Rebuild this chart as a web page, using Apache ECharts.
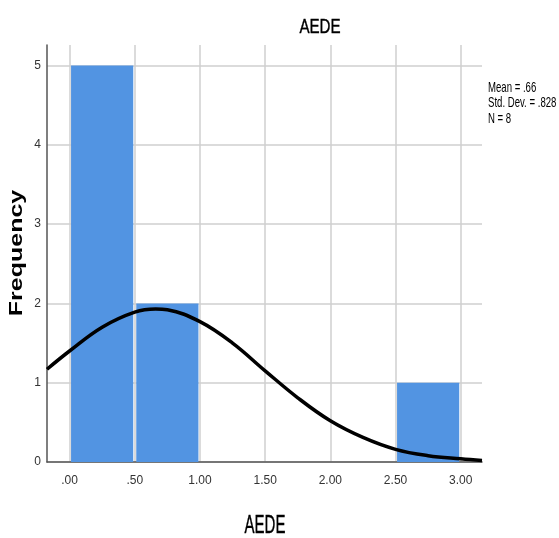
<!DOCTYPE html>
<html><head><meta charset="utf-8">
<script src="https://cdn.jsdelivr.net/npm/echarts@6/dist/echarts.min.js"></script>
<style>html,body{margin:0;padding:0;background:#fff}#c{width:559px;height:538px}</style>
</head><body><div id="c"></div>
<script>
// Histogram bins
const binStart = [0.0, 0.5, 2.5];
const binEnd   = [0.5, 1.0, 3.0];
const binFreq  = [5, 2, 1];
// Normal curve points
const curveX = [-0.173, 0.0, 0.25, 0.5, 0.66, 0.75, 1.0, 1.25, 1.5, 1.75, 2.0, 2.25, 2.5, 2.75, 3.0, 3.163];
const curveY = [1.17, 1.40, 1.70, 1.89, 1.93, 1.92, 1.77, 1.50, 1.15, 0.81, 0.52, 0.31, 0.16, 0.08, 0.04, 0.02];
// Tick labels
const xTickValues = [0, 0.5, 1.0, 1.5, 2.0, 2.5, 3.0];
const xTickLabels = ['.00', '.50', '1.00', '1.50', '2.00', '2.50', '3.00'];
const yTickValues = [0, 1, 2, 3, 4, 5];
const yTickLabels = ['0', '1', '2', '3', '4', '5'];
const titleText = 'AEDE';
const xName = 'AEDE';
const yName = 'Frequency';
const statsLines = ['Mean = .66', 'Std. Dev. = .828', 'N = 8'];

const chart = echarts.init(document.getElementById('c'));
const narrow = '"Liberation Sans Narrow", "Arial Narrow", "Liberation Sans", Arial, sans-serif';
const sans = '"Liberation Sans", Arial, sans-serif';

chart.setOption({
  animation: false,
  backgroundColor: '#fff',
  grid: { left: 47, right: 77, top: 45, bottom: 76, containLabel: false },
  xAxis: {
    type: 'value', min: -0.173, max: 3.163,
    axisLine: { show: true, onZero: false, lineStyle: { color: '#555', width: 1.5 } },
    axisTick: { show: false, customValues: xTickValues },
    axisLabel: {
      customValues: xTickValues, margin: 13,
      fontFamily: narrow, fontSize: 12, color: '#333',
      formatter: v => { const i = xTickValues.findIndex(t => Math.abs(t - v) < 1e-6); return i >= 0 ? xTickLabels[i] : ''; }
    },
    splitLine: { show: true, lineStyle: { color: '#cfcfcf', width: 1.5 } }
  },
  yAxis: {
    type: 'value', min: 0, max: 5.26,
    axisLine: { show: true, onZero: false, lineStyle: { color: '#555', width: 1.5 } },
    axisTick: { show: false, customValues: yTickValues },
    axisLabel: {
      customValues: yTickValues, margin: 6,
      fontFamily: narrow, fontSize: 12, color: '#333',
      formatter: v => { const i = yTickValues.findIndex(t => Math.abs(t - v) < 1e-6); return i >= 0 ? yTickLabels[i] : ''; }
    },
    splitLine: { show: true, lineStyle: { color: '#cfcfcf', width: 1.5 } }
  },
  series: [
    {
      type: 'custom',
      data: binStart.map((s, i) => [s, binEnd[i], binFreq[i]]),
      encode: { x: [0, 1], y: 2 },
      z: 2,
      renderItem: function (params, api) {
        const p0 = api.coord([api.value(0), api.value(2)]);
        const p1 = api.coord([api.value(1), 0]);
        return {
          type: 'rect',
          shape: { x: p0[0] + 1.5, y: p0[1], width: p1[0] - p0[0] - 3, height: p1[1] - p0[1] },
          style: { fill: '#5294E2' }
        };
      }
    },
    {
      type: 'line',
      data: curveX.map((x, i) => [x, curveY[i]]),
      smooth: 0.4, symbol: 'none', z: 5,
      lineStyle: { color: '#000', width: 3.5 }
    }
  ],
  graphic: [
    { type: 'text', x: 320, y: 27, scaleX: 0.72, z: 10,
      style: { text: titleText, font: '21px ' + sans, fill: '#000', stroke: '#000', lineWidth: 0.4, textAlign: 'center', textVerticalAlign: 'middle' } },
    { type: 'text', x: 265, y: 526, scaleX: 0.6, z: 10,
      style: { text: xName, font: '25px ' + sans, fill: '#000', stroke: '#000', lineWidth: 0.4, textAlign: 'center', textVerticalAlign: 'middle' } },
    { type: 'text', x: 17, y: 253, rotation: Math.PI / 2, scaleY: 0.7, z: 10,
      style: { text: yName, font: 'bold 25px ' + sans, fill: '#000', textAlign: 'center', textVerticalAlign: 'middle' } },
    { type: 'text', x: 488, y: 80, scaleX: 0.64, z: 10,
      style: { text: statsLines.join('\n'), font: '15px ' + sans, lineHeight: 15.5, fill: '#000', textAlign: 'left', textVerticalAlign: 'top' } }
  ]
});
</script></body></html>
